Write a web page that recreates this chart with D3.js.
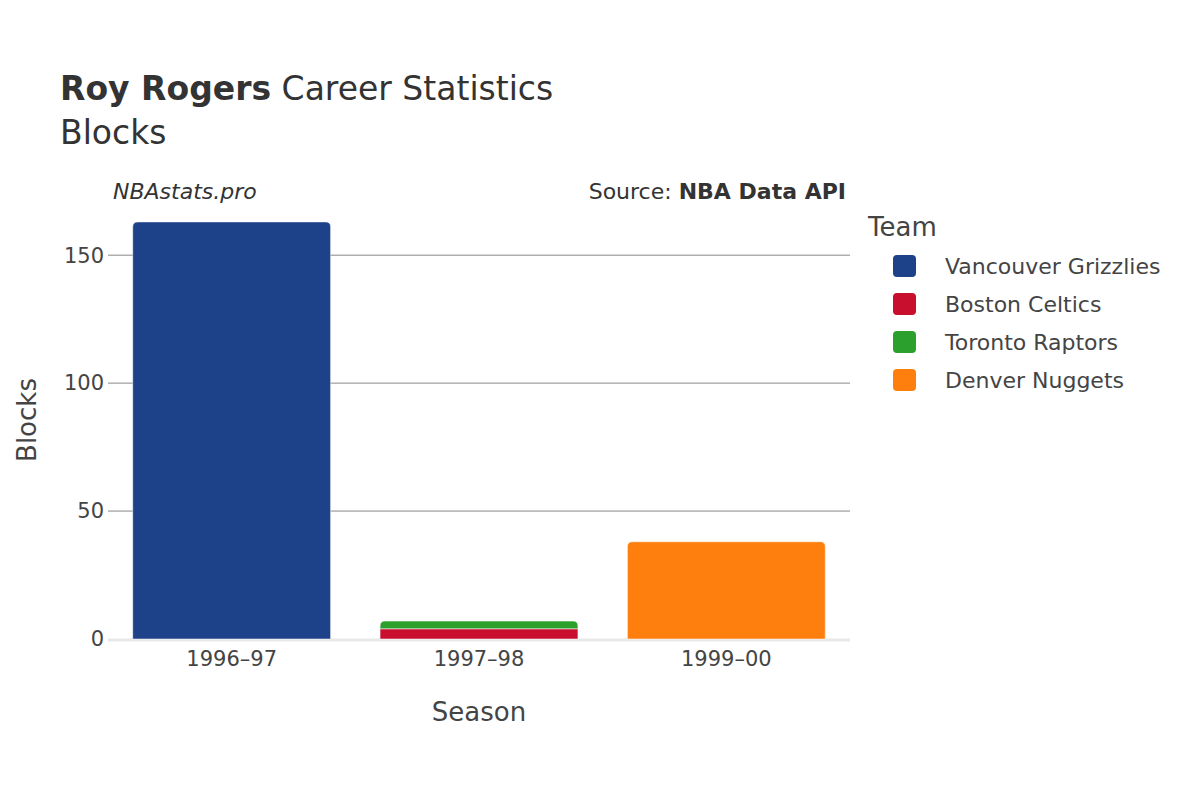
<!DOCTYPE html>
<html>
<head>
<meta charset="utf-8">
<script src="https://cdn.jsdelivr.net/npm/d3@7"></script>
<style>
body { margin: 0; background: #fff; font-family: "DejaVu Sans", sans-serif; }
</style>
</head>
<body>
<script>
var seasons = ["1996\u201397", "1997\u201398", "1999\u201300"];
var teams = ["Vancouver Grizzlies", "Boston Celtics", "Toronto Raptors", "Denver Nuggets"];
var colors = ["#1d428a", "#c8102e", "#2ca02c", "#ff7f0e"];
// blocks per season, per team (same order as teams)
var vancouver = [163, 0, 0];
var boston = [0, 4, 0];
var toronto = [0, 3, 0];
var denver = [0, 0, 38];
var yTicks = [0, 50, 100, 150];

var series = [vancouver, boston, toronto, denver];

var svg = d3.select("body").append("svg")
  .attr("width", 1200)
  .attr("height", 800);

var x = d3.scaleBand().domain(seasons).range([108, 850]).paddingInner(0.2).paddingOuter(0.1);
var y = d3.scaleLinear().domain([0, 170]).range([639, 204]);

// gridlines
svg.selectAll(".grid")
  .data(yTicks.filter(function(d){ return d > 0; }))
  .enter().append("line")
  .attr("x1", 108).attr("x2", 850)
  .attr("y1", function(d){ return y(d); })
  .attr("y2", function(d){ return y(d); })
  .attr("stroke", "#888").attr("stroke-width", 1);

svg.append("line")
  .attr("x1", 108).attr("x2", 850)
  .attr("y1", y(0) + 1).attr("y2", y(0) + 1)
  .attr("stroke", "#e8e8e8").attr("stroke-width", 3);

// stacked bars
var rows = seasons.map(function(s, i){
  var r = { season: s };
  teams.forEach(function(t, j){ r[t] = series[j][i]; });
  return r;
});
var stack = d3.stack().keys(teams)(rows);

function barPath(x0, w, yTop, yBot, r) {
  r = Math.min(r, (yBot - yTop));
  return "M" + x0 + "," + yBot +
    "V" + (yTop + r) +
    "Q" + x0 + "," + yTop + " " + (x0 + r) + "," + yTop +
    "H" + (x0 + w - r) +
    "Q" + (x0 + w) + "," + yTop + " " + (x0 + w) + "," + (yTop + r) +
    "V" + yBot + "Z";
}

rows.forEach(function(row, i){
  var top = -1;
  stack.forEach(function(layer, j){ if (layer[i][1] > layer[i][0]) top = j; });
  stack.forEach(function(layer, j){
    var d = layer[i];
    if (d[1] <= d[0]) return;
    var y0 = y(d[1]), y1 = y(d[0]);
    svg.append("path")
      .attr("d", barPath(x(row.season), x.bandwidth(), y0, y1, j === top ? 5 : 0))
      .attr("fill", colors[j])
      .attr("stroke", "#fff").attr("stroke-width", 0.5);
  });
});

// axes labels
svg.selectAll(".ytick")
  .data(yTicks).enter().append("text")
  .attr("x", 104).attr("y", function(d){ return y(d); })
  .attr("dy", "0.35em").attr("text-anchor", "end")
  .attr("font-size", 21).attr("fill", "#444")
  .text(function(d){ return d; });

svg.selectAll(".xtick")
  .data(seasons).enter().append("text")
  .attr("x", function(d){ return x(d) + x.bandwidth() / 2; })
  .attr("y", 666).attr("text-anchor", "middle")
  .attr("font-size", 21).attr("fill", "#444")
  .text(function(d){ return d; });

svg.append("text").attr("x", 479).attr("y", 721).attr("text-anchor", "middle")
  .attr("font-size", 26).attr("fill", "#444").text("Season");
svg.append("text").attr("transform", "translate(27,420) rotate(-90)")
  .attr("text-anchor", "middle").attr("dy", "0.35em").attr("font-size", 26).attr("fill", "#444").text("Blocks");

// title
var title = svg.append("text").attr("x", 60).attr("y", 100).attr("font-size", 33).attr("fill", "#333");
title.append("tspan").attr("font-weight", "bold").text("Roy Rogers");
title.append("tspan").text(" Career Statistics");
svg.append("text").attr("x", 60).attr("y", 144).attr("font-size", 33).attr("fill", "#333").text("Blocks");

svg.append("text").attr("x", 113).attr("y", 199).attr("font-size", 22).attr("font-style", "italic")
  .attr("fill", "#333").text("NBAstats.pro");
var src = svg.append("text").attr("x", 846).attr("y", 199).attr("text-anchor", "end")
  .attr("font-size", 22).attr("fill", "#333");
src.append("tspan").text("Source: ");
src.append("tspan").attr("font-weight", "bold").text("NBA Data API");

// legend
svg.append("text").attr("x", 868).attr("y", 236).attr("font-size", 26).attr("fill", "#444").text("Team");
var lg = svg.selectAll(".lg").data(teams).enter().append("g")
  .attr("transform", function(d, i){ return "translate(893," + (266 + i * 38) + ")"; });
lg.append("rect").attr("x", 0).attr("y", -11).attr("width", 23).attr("height", 22).attr("rx", 4)
  .attr("fill", function(d, i){ return colors[i]; });
lg.append("text").attr("x", 52).attr("dy", "0.35em").attr("font-size", 22).attr("fill", "#444")
  .text(function(d){ return d; });
</script>
</body>
</html>
